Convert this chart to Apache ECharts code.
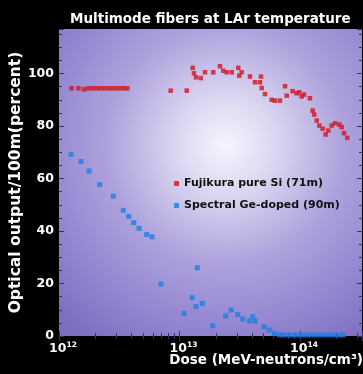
<!DOCTYPE html>
<html>
<head>
<meta charset="utf-8">
<script src="https://cdn.jsdelivr.net/npm/echarts@6/dist/echarts.min.js"></script>
<style>
html,body{margin:0;padding:0;background:#000;}
#chart{width:363px;height:374px;}
</style>
</head>
<body>
<div id="chart"></div>
<script>
// ---- data (dose in MeV-neutrons/cm^2, output in percent) ----
const seriesNames = ['Fujikura pure Si (71m)', 'Spectral Ge-doped (90m)'];

const fujikuraDose = [1.27e12, 1.45e12, 1.61e12, 1.75e12, 1.89e12, 2.04e12, 2.20e12, 2.38e12, 2.57e12, 2.77e12, 2.99e12, 3.23e12, 3.48e12, 3.69e12,
  8.45e12, 1.148e13, 1.287e13, 1.319e13, 1.371e13, 1.50e13, 1.628e13, 1.908e13, 2.168e13, 2.31e13, 2.465e13, 2.71e13, 3.076e13, 3.28e13, 3.135e13,
  3.846e13, 4.233e13, 4.656e13, 4.745e13, 4.81e13, 5.124e13, 5.82e13, 6.20e13, 6.82e13, 7.51e13, 7.76e13, 8.69e13, 9.39e13, 9.87e13, 1.033e14, 1.08e14,
  1.21e14, 1.274e14, 1.314e14, 1.376e14, 1.446e14, 1.542e14, 1.633e14, 1.717e14, 1.832e14, 1.951e14, 2.118e14, 2.218e14, 2.317e14, 2.47e14];
const fujikuraOutput = [94.4, 94.4, 94.0, 94.4, 94.4, 94.4, 94.4, 94.4, 94.4, 94.4, 94.4, 94.4, 94.4, 94.4,
  93.5, 93.5, 102.2, 100.1, 98.6, 98.3, 100.5, 100.5, 102.8, 101.1, 100.5, 100.5, 102.2, 100.5, 99.2,
  98.9, 96.7, 96.7, 98.9, 94.5, 92.2, 90.0, 89.7, 89.7, 95.2, 91.6, 93.3, 92.5, 92.9, 91.3, 92.0,
  90.6, 85.9, 84.4, 82.1, 80.2, 79.0, 76.8, 78.3, 80.2, 81.1, 80.6, 79.6, 77.3, 75.5];

const spectralDose = [1.258e12, 1.523e12, 1.774e12, 2.177e12, 2.82e12, 3.417e12, 3.788e12, 4.17e12, 4.61e12, 5.345e12, 5.91e12, 7.02e12,
  1.089e13, 1.277e13, 1.371e13, 1.406e13, 1.546e13, 1.886e13, 2.417e13, 2.675e13, 3.04e13, 3.346e13, 3.796e13, 4.05e13, 4.233e13,
  5.02e13, 5.56e13, 6.12e13, 6.73e13, 7.41e13, 8.15e13, 8.97e13, 9.87e13, 1.086e14, 1.194e14, 1.314e14, 1.446e14, 1.591e14, 1.75e14, 1.926e14, 2.118e14, 2.286e14];
const spectralOutput = [69.2, 66.5, 62.9, 57.7, 53.3, 47.9, 45.6, 43.2, 41.0, 38.7, 37.8, 19.8,
  8.6, 14.6, 11.2, 26.0, 12.4, 3.9, 7.6, 9.9, 8.2, 6.5, 5.7, 7.3, 5.7,
  3.5, 2.3, 1.0, 0.5, 0.4, 0.4, 0.4, 0.4, 0.4, 0.4, 0.4, 0.4, 0.4, 0.4, 0.4, 0.4, 0.4];

const yTicks = [0, 20, 40, 60, 80, 100];
const xTickExponents = [12, 13, 14];

const titleText = 'Multimode fibers at LAr temperature';
const yName = 'Optical output/100m(percent)';
const xName = 'Dose (MeV-neutrons/cm³)';

// ---- chart ----
const chart = echarts.init(document.getElementById('chart'), null, {renderer: 'canvas'});
const FONT = 'DejaVu Sans';
const tickColor = '#3b3168';

function pairs(xs, ys) { return xs.map((x, i) => [x, ys[i]]); }

function xLabel(v) {
  const e = Math.log10(v);
  const r = Math.round(e);
  if (Math.abs(e - r) > 1e-6 || xTickExponents.indexOf(r) < 0) return '';
  return '{b|10}{s|' + r + '}';
}
function yLabel(v) {
  return yTicks.indexOf(v) >= 0 ? String(v) : '';
}

const xCommon = {
  type: 'log', logBase: 10, min: 1e12, max: 3.27e14,
  axisLine: {show: false},
  splitLine: {show: false},
  axisTick: {show: true, inside: true, length: 5, lineStyle: {color: tickColor, width: 1}},
  minorTick: {show: true, splitNumber: 9, length: 3, lineStyle: {color: tickColor, width: 1}}
};
const yCommon = {
  type: 'value', min: 0, max: 117, interval: 20,
  axisLine: {show: false},
  splitLine: {show: false},
  axisTick: {show: true, inside: true, length: 5, lineStyle: {color: tickColor, width: 1}},
  minorTick: {show: true, splitNumber: 4, length: 3, lineStyle: {color: tickColor, width: 1}}
};

chart.setOption({
  backgroundColor: '#000',
  animation: false,
  title: [
    {
      text: titleText,
      left: 65, top: 7,
      textStyle: {color: '#fff', fontFamily: FONT, fontWeight: 'bold', fontSize: 13.5}
    },
    {
      text: xName,
      right: 0, top: 353,
      padding: 0,
      textStyle: {color: '#fff', fontFamily: FONT, fontWeight: 'bold', fontSize: 13.5}
    }
  ],
  grid: {
    left: 59, right: 1, top: 29, bottom: 38,
    containLabel: false,
    outerBoundsMode: 'none',
    show: true, borderWidth: 0,
    backgroundColor: new echarts.graphic.RadialGradient(0.55, 0.38, 0.78, [
      {offset: 0, color: '#f6f5fc'},
      {offset: 0.2, color: '#ddd8f2'},
      {offset: 0.5, color: '#ada2dc'},
      {offset: 0.8, color: '#9182cf'},
      {offset: 1, color: '#7e6ec2'}
    ])
  },
  legend: {
    orient: 'vertical', left: 169, top: 173,
    itemWidth: 5, itemHeight: 5, itemGap: 11,
    icon: 'rect',
    data: seriesNames,
    textStyle: {color: '#111', fontFamily: FONT, fontWeight: 'bold', fontSize: 11}
  },
  xAxis: [
    Object.assign({}, xCommon, {
      position: 'bottom',
      axisLabel: {
        show: true, margin: 5, formatter: xLabel, padding: [0, 0, 0, 8],
        showMaxLabel: false,
        rich: {
          b: {color: '#fff', fontFamily: FONT, fontWeight: 'bold', fontSize: 12.5, lineHeight: 16},
          s: {color: '#fff', fontFamily: FONT, fontWeight: 'bold', fontSize: 7.5, lineHeight: 16, verticalAlign: 'top', padding: [0, 0, 6, 0]}
        }
      }
    }),
    Object.assign({}, xCommon, {position: 'top', axisLabel: {show: false}})
  ],
  yAxis: [
    Object.assign({}, yCommon, {
      position: 'left',
      name: yName,
      nameLocation: 'middle', nameGap: 35,
      nameMoveOverlap: false,
      nameTextStyle: {color: '#fff', fontFamily: FONT, fontWeight: 'bold', fontSize: 15.5},
      axisLabel: {
        show: true, margin: 5, formatter: yLabel, showMaxLabel: false,
        color: '#fff', fontFamily: FONT, fontWeight: 'bold', fontSize: 12.5
      }
    }),
    Object.assign({}, yCommon, {position: 'right', axisLabel: {show: false}})
  ],
  series: [
    {
      name: seriesNames[0], type: 'scatter', xAxisIndex: 0, yAxisIndex: 0,
      symbol: 'rect', symbolSize: 4.5,
      itemStyle: {color: '#d3141e'},
      data: pairs(fujikuraDose, fujikuraOutput),
      clip: false
    },
    {
      name: seriesNames[1], type: 'scatter', xAxisIndex: 0, yAxisIndex: 0,
      symbol: 'rect', symbolSize: 5,
      itemStyle: {color: '#1a7fe6'},
      data: pairs(spectralDose, spectralOutput),
      clip: false
    }
  ]
});
</script>
</body>
</html>
